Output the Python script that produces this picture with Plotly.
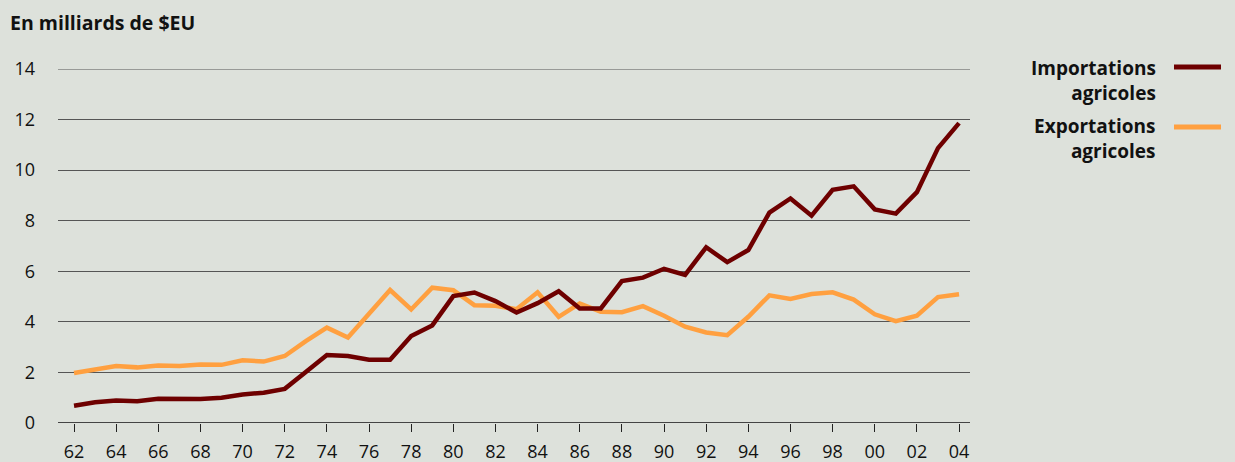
import plotly.graph_objects as go

years = list(range(1962, 2005))
tick_years = list(range(1962, 2005, 2))
tick_labels = [str(y)[-2:] for y in tick_years]

imports = [0.68, 0.82, 0.89, 0.86, 0.96, 0.95, 0.95, 1.0, 1.13, 1.2, 1.35,
           2.02, 2.69, 2.65, 2.5, 2.5, 3.44, 3.86, 5.02, 5.16, 4.82, 4.37,
           4.74, 5.21, 4.53, 4.53, 5.61, 5.75, 6.1, 5.86, 6.95, 6.36, 6.84,
           8.32, 8.88, 8.2, 9.22, 9.36, 8.45, 8.28, 9.13, 10.87, 11.86]
exports = [1.98, 2.12, 2.25, 2.2, 2.27, 2.25, 2.31, 2.3, 2.48, 2.43, 2.65,
           3.24, 3.77, 3.38, 4.32, 5.26, 4.49, 5.35, 5.25, 4.66, 4.64, 4.5,
           5.17, 4.2, 4.73, 4.4, 4.38, 4.62, 4.24, 3.81, 3.58, 3.47, 4.2,
           5.05, 4.91, 5.1, 5.17, 4.88, 4.3, 4.03, 4.24, 4.98, 5.09]

series_names = ["Importations<br>agricoles", "Exportations<br>agricoles"]
colors = ["#6e0000", "#ffa040"]

BG = "#dde1db"
FONT = "Open Sans"
PW, PH = 912, 354  # plot area size in px

fig = go.Figure()
for vals, c in zip([imports, exports][::-1], colors[::-1]):
    fig.add_trace(go.Scatter(x=years, y=vals, mode="lines",
                             line=dict(color=c, width=4.5, shape="linear"),
                             showlegend=False, hoverinfo="skip"))

fig.update_layout(
    width=1235, height=462,
    paper_bgcolor=BG, plot_bgcolor=BG,
    margin=dict(l=58, r=265, t=69, b=39, pad=0, autoexpand=False),
    font=dict(family=FONT, color="#111111", size=18),
    xaxis=dict(range=[1961.24, 2004.52], tickvals=tick_years, ticktext=tick_labels,
               showgrid=False, zeroline=False, showline=False, automargin=False,
               ticks="outside", ticklen=8, tickwidth=1.2, tickcolor="#222222",
               ticklabelstandoff=4,
               tickfont=dict(size=18, family=FONT, color="#111111")),
    yaxis=dict(range=[0, 14], tickvals=list(range(0, 15, 2)),
               showgrid=True, gridcolor="#555555", gridwidth=1,
               zeroline=False, showline=False, ticks="", automargin=False,
               ticklabelstandoff=22,
               tickfont=dict(size=18, family=FONT, color="#111111")),
)

# top gridline (at range edge) and x axis baseline
fig.add_shape(type="line", xref="paper", yref="y", x0=0, x1=1, y0=14, y1=14,
              line=dict(color="#555555", width=1), layer="below")
fig.add_shape(type="line", xref="paper", yref="y", x0=0, x1=1, y0=0, y1=0,
              line=dict(color="#444444", width=2), layer="above")

fig.add_annotation(text="<b>En milliards de $EU</b>", xref="paper", yref="paper",
                   x=-50/PW, y=1 + (69-23)/PH, xanchor="left", yanchor="middle",
                   showarrow=False, font=dict(size=19.5, family=FONT, color="#111111"))

# legend (text right-aligned before swatch)
legend_text_y = [80.5, 138]
legend_line_y = [67, 127]
for name, c, ty, ly in zip(series_names, colors, legend_text_y, legend_line_y):
    fig.add_annotation(text="<b>" + name + "</b>", xref="paper", yref="paper",
                       x=(1158 - 58) / PW, y=1 - (ty - 69) / PH,
                       xanchor="right", yanchor="middle",
                       align="right", showarrow=False,
                       font=dict(size=19, family=FONT, color="#111111"))
    yp = 1 - (ly - 69) / PH
    fig.add_shape(type="line", xref="paper", yref="paper",
                  x0=(1174 - 58) / PW, x1=(1221 - 58) / PW, y0=yp, y1=yp,
                  line=dict(color=c, width=5))

fig.write_html("out.html", config={"displayModeBar": False})

# remove default page margin so the figure sits at the window origin
with open("out.html", "r", encoding="utf-8") as f:
    html = f.read()
html = html.replace("<head>", "<head><style>html,body{margin:0;padding:0;overflow:hidden;}</style>", 1)
with open("out.html", "w", encoding="utf-8") as f:
    f.write(html)
